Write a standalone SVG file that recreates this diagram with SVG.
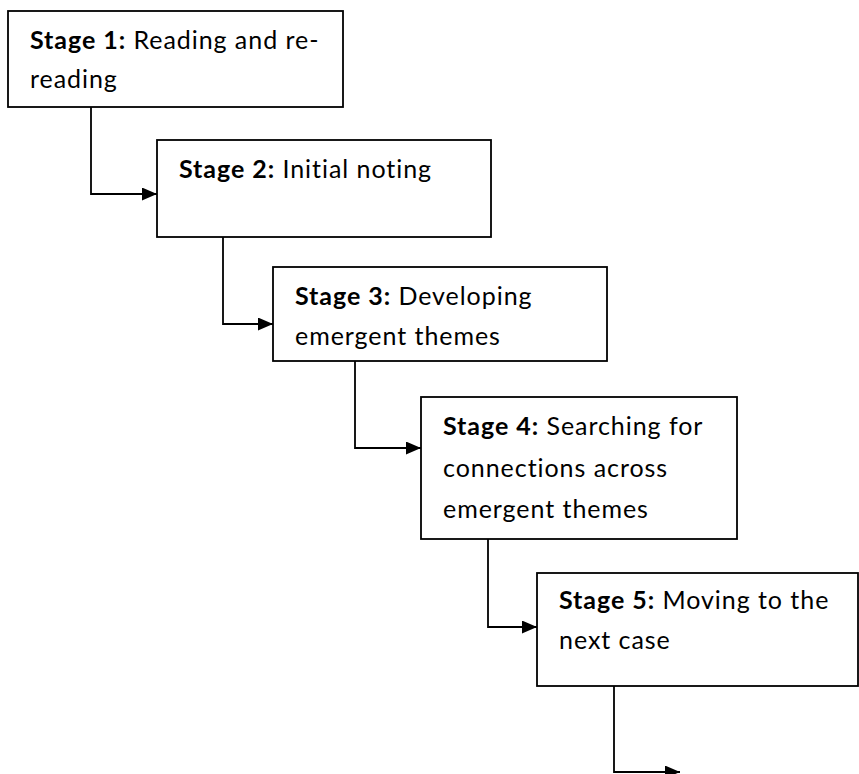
<svg xmlns="http://www.w3.org/2000/svg" width="859" height="774" viewBox="0 0 859 774">
<style>
.box{fill:#fff;stroke:#000;stroke-width:1.8}
.t{font-family:Lato,"Liberation Sans",sans-serif;font-size:25px;letter-spacing:0.95px;fill:#000}
.b{font-weight:bold}
.c{fill:none;stroke:#000;stroke-width:1.8}
</style>
<defs>
<marker id="ah" markerUnits="userSpaceOnUse" markerWidth="15" markerHeight="13" refX="15" refY="6.5" orient="auto">
<path d="M0,0 L15,6.5 L0,13 z" fill="#000"/>
</marker>
</defs>
<rect width="859" height="774" fill="#fff"/>
<g id="connectors">
<path class="c" d="M91,107 V194 H157" marker-end="url(#ah)"/>
<path class="c" d="M223,237 V324 H273" marker-end="url(#ah)"/>
<path class="c" d="M355,361 V448 H421" marker-end="url(#ah)"/>
<path class="c" d="M488,539 V627 H537" marker-end="url(#ah)"/>
<path class="c" d="M614,686 V772 H680" marker-end="url(#ah)"/>
</g>
<g id="stage1">
<rect class="box" x="8" y="11" width="335" height="96"/>
<text class="t" x="30" y="49"><tspan class="b">Stage 1:</tspan> Reading and re-</text>
<text class="t" x="30" y="88">reading</text>
</g>
<g id="stage2">
<rect class="box" x="157" y="140" width="334" height="97"/>
<text class="t" x="179" y="178"><tspan class="b">Stage 2:</tspan> Initial noting</text>
</g>
<g id="stage3">
<rect class="box" x="273" y="267" width="334" height="94"/>
<text class="t" x="295" y="305"><tspan class="b">Stage 3:</tspan> Developing</text>
<text class="t" x="295" y="345">emergent themes</text>
</g>
<g id="stage4">
<rect class="box" x="421" y="397" width="316" height="142"/>
<text class="t" x="443" y="435"><tspan class="b">Stage 4:</tspan> Searching for</text>
<text class="t" x="443" y="477">connections across</text>
<text class="t" x="443" y="518">emergent themes</text>
</g>
<g id="stage5">
<rect class="box" x="537" y="573" width="321" height="113"/>
<text class="t" x="559" y="609"><tspan class="b">Stage 5:</tspan> Moving to the</text>
<text class="t" x="559" y="649">next case</text>
</g>
</svg>
